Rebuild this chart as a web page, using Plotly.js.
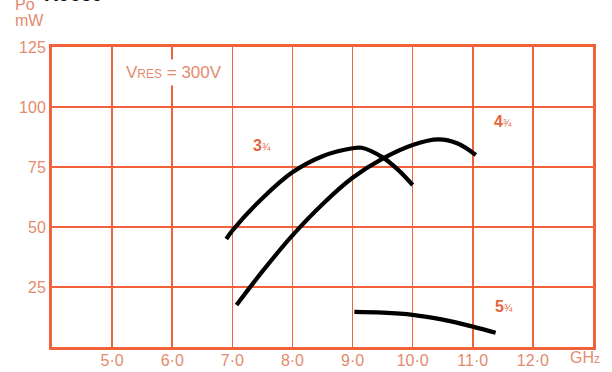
<!DOCTYPE html>
<html>
<head>
<meta charset="utf-8">
<script src="https://cdn.plot.ly/plotly-3.0.1.min.js"></script>
<style>html,body{margin:0;padding:0;background:#fff;}#chart{width:612px;height:372px;}</style>
</head>
<body>
<div id="chart"></div>
<script>
// Frequency (GHz) and output power (mW)
const freq34 = [6.9, 7.0, 7.5, 8.0, 8.5, 9.0, 9.15, 9.5, 9.75, 10.0];
const po34   = [45, 48.5, 62, 72.8, 79.5, 82.8, 83, 79, 74, 67.5];

const freq44 = [7.07, 7.5, 8.0, 8.5, 9.0, 9.5, 10.0, 10.43, 10.75, 11.05];
const po44   = [17.5, 31.5, 46.5, 59.5, 70.5, 78.5, 84.2, 86.5, 84.8, 80];

const freq54 = [9.03, 9.5, 10.0, 10.5, 11.0, 11.38];
const po54   = [14.6, 14.3, 13.4, 11.4, 8.5, 5.9];

const xTickVals = [5, 6, 7, 8, 9, 10, 11, 12];
const xTickText = ['5·0', '6·0', '7·0', '8·0', '9·0', '10·0', '11·0', '12·0'];
const yTickVals = [25, 50, 75, 100, 125];
const yTickText = ['25', '50', '75', '100', '125'];

const curveLabels = ['3', '4', '5'];
const labelX = [7.5, 11.5, 11.52];
const labelY = [84, 93.8, 16.7];

const grid = '#f2623a';
const txt = '#e38b6e';
const lab = '#e6653e';
const FONT = 'Liberation Sans, Arial, sans-serif';

const lineStyle = {color: '#000', width: 4.2, shape: 'spline', smoothing: 1};
const traces = [
  {x: freq34, y: po34, mode: 'lines', line: lineStyle, hoverinfo: 'skip'},
  {x: freq44, y: po44, mode: 'lines', line: lineStyle, hoverinfo: 'skip'},
  {x: freq54, y: po54, mode: 'lines', line: lineStyle, hoverinfo: 'skip'}
];

const annotations = curveLabels.map((c, i) => ({
  x: labelX[i], y: labelY[i], xref: 'x', yref: 'y', showarrow: false,
  xanchor: 'center', yanchor: 'middle',
  text: '<b>' + c + '</b><span style="font-size:10px">¾</span>',
  font: {family: FONT, size: 16, color: lab}
}));

annotations.push(
  {x: 6.03, y: 114.2, xref: 'x', yref: 'y', showarrow: false, bgcolor: '#ffffff',
   xanchor: 'center', yanchor: 'middle', borderpad: 3,
   text: 'V<span style="font-size:12px">RES</span> = 300V',
   font: {family: FONT, size: 17, color: txt}},
  {x: 12.87, y: -0.035, xref: 'x', yref: 'paper', yanchor: 'middle', xanchor: 'center', showarrow: false,
   text: 'GH<span style="font-size:12px">z</span>',
   font: {family: FONT, size: 16, color: txt}},
  {x: -0.0407, y: 1.087, xref: 'paper', yref: 'paper', xanchor: 'center', yanchor: 'middle', showarrow: false,
   text: 'mW', font: {family: FONT, size: 16, color: txt}},
  {x: -0.05, y: 1.143, xref: 'paper', yref: 'paper', xanchor: 'center', yanchor: 'middle', showarrow: false,
   text: 'Po', font: {family: FONT, size: 16, color: txt}},
  {x: -0.0185, y: 1.135, xref: 'paper', yref: 'paper', xanchor: 'left', yanchor: 'bottom', showarrow: false,
   text: '<b>R9659</b>', font: {family: FONT, size: 20, color: '#111'}}
);

const layout = {
  width: 612, height: 372,
  margin: {l: 52, r: 19, t: 47, b: 25},
  paper_bgcolor: '#fff', plot_bgcolor: '#fff',
  showlegend: false,
  xaxis: {
    range: [4, 13], tickvals: xTickVals, ticktext: xTickText,
    showgrid: true, gridcolor: grid, gridwidth: 1.6,
    showline: true, linecolor: grid, linewidth: 3, mirror: true,
    zeroline: false, ticks: '', ticklen: 0, ticklabelstandoff: -3,
    tickfont: {family: FONT, size: 16, color: txt}
  },
  yaxis: {
    range: [0, 125], tickvals: yTickVals, ticktext: yTickText,
    showgrid: true, gridcolor: grid, gridwidth: 1.6,
    showline: true, linecolor: grid, linewidth: 3, mirror: true,
    zeroline: false, ticks: '', ticklen: 0,
    tickfont: {family: FONT, size: 16, color: txt}
  },
  annotations: annotations
};

Plotly.newPlot('chart', traces, layout, {displayModeBar: false, staticPlot: true});
</script>
</body>
</html>
